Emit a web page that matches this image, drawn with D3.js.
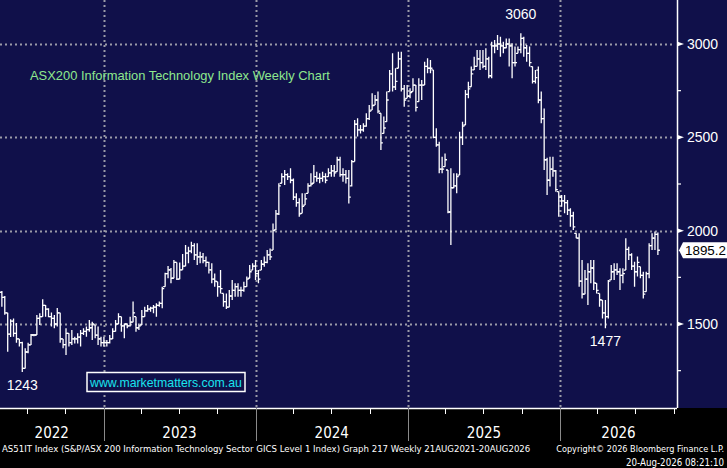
<!DOCTYPE html>
<html>
<head>
<meta charset="utf-8">
<script src="https://cdn.jsdelivr.net/npm/d3@7"></script>
<style>
  body { margin: 0; background: #000; }
  svg { display: block; }
  text { font-family: "Liberation Sans", Arial, sans-serif; }
  .narrow { font-family: "Liberation Sans Narrow", "DejaVu Sans Condensed", "Liberation Sans", sans-serif; }
</style>
</head>
<body>
<div id="chart"></div>
<script>
(function () {

// Weekly OHLC values (first week ~ May 2022)
const opens = [
  1670,1643,1560,1446,1515,1450,1420,1400,1262,1350,1388,1441,1441,1530,1540,1600,1580,1540,1530,1500,
  1560,1420,1390,1450,1400,1420,1420,1430,1450,1460,1470,1480,1495,1440,1420,1400,1400,1400,1420,1460,
  1500,1539,1490,1500,1490,1510,1539,1480,1495,1540,1570,1580,1585,1590,1600,1610,1700,1770,1790,1745,
  1830,1740,1790,1810,1880,1890,1920,1870,1860,1860,1840,1830,1790,1740,1727,1700,1664,1620,1590,1650,
  1680,1700,1680,1680,1700,1745,1789,1810,1770,1789,1820,1830,1870,1896,2004,2090,2254,2290,2300,2290,
  2270,2180,2150,2093,2137,2200,2240,2254,2290,2280,2280,2290,2289,2310,2320,2316,2380,2300,2300,2280,
  2240,2370,2570,2540,2540,2560,2600,2646,2673,2700,2629,2521,2584,2745,2840,2770,2870,2920,2760,2709,
  2720,2745,2780,2691,2780,2780,2880,2870,2861,2500,2460,2330,2343,2325,2100,2230,2240,2298,2500,2566,
  2730,2771,2861,2880,2920,2900,2880,2920,2830,2990,2990,3000,2990,2980,3000,2990,2900,2950,2970,3030,
  2980,2950,2879,2800,2860,2700,2600,2380,2270,2330,2320,2209,2180,2160,2150,2110,2080,1986,1960,1730,
  1660,1740,1780,1800,1718,1664,1628,1560,1540,1736,1780,1790,1780,1760,1789,1900,1870,1810,1780,1807,
  1760,1673,1770,1920,1960,1980
];
const highs = [
  1677,1650,1560,1525,1530,1505,1420,1405,1370,1400,1446,1446,1548,1557,1632,1602,1584,1562,1548,1586,
  1560,1420,1477,1450,1468,1432,1450,1468,1477,1486,1521,1512,1495,1486,1432,1432,1414,1441,1477,1521,
  1557,1539,1503,1503,1539,1620,1539,1503,1575,1593,1602,1593,1602,1611,1620,1700,1775,1811,1800,1843,
  1830,1830,1875,1923,1914,1941,1932,1932,1887,1880,1861,1834,1825,1771,1727,1789,1664,1664,1682,1736,
  1718,1718,1700,1727,1754,1816,1825,1843,1789,1843,1861,1896,1905,2039,2111,2254,2307,2325,2307,2334,
  2280,2200,2173,2200,2200,2254,2307,2352,2316,2307,2316,2307,2334,2352,2352,2396,2396,2334,2325,2325,
  2378,2593,2602,2566,2575,2629,2673,2736,2727,2745,2629,2611,2745,2861,2950,2870,2959,2959,2780,2780,
  2763,2816,2780,2816,2807,2905,2923,2914,2861,2548,2477,2396,2414,2325,2334,2307,2307,2530,2584,2754,
  2798,2879,2932,2968,2968,2968,2977,2932,3012,3021,3048,3039,3012,3030,3030,3004,2986,2986,3057,3039,
  2995,2986,2879,2861,2879,2745,2655,2390,2396,2396,2325,2209,2191,2191,2164,2120,2102,1986,1986,1843,
  1789,1825,1843,1843,1718,1664,1628,1628,1736,1816,1825,1825,1798,1798,1959,1914,1879,1834,1861,1807,
  1780,1780,1932,1986,1995,1990
];
const lows = [
  1593,1550,1352,1430,1432,1400,1380,1243,1262,1343,1388,1435,1441,1495,1539,1539,1536,1486,1477,1486,
  1400,1370,1334,1379,1388,1396,1396,1379,1441,1432,1459,1414,1424,1388,1379,1379,1379,1396,1420,1460,
  1500,1459,1423,1477,1486,1510,1459,1468,1495,1539,1566,1566,1557,1539,1593,1584,1700,1745,1718,1745,
  1736,1740,1790,1810,1825,1879,1843,1816,1825,1825,1807,1771,1718,1700,1646,1664,1593,1580,1590,1628,
  1646,1646,1646,1673,1700,1745,1789,1736,1718,1789,1807,1825,1843,1896,2004,2084,2254,2245,2271,2254,
  2164,2128,2075,2093,2137,2200,2236,2254,2262,2254,2262,2254,2289,2289,2289,2316,2289,2262,2253,2146,
  2236,2370,2504,2521,2530,2557,2593,2646,2673,2629,2432,2521,2584,2745,2745,2754,2870,2745,2664,2709,
  2709,2745,2638,2691,2700,2780,2843,2843,2495,2450,2307,2307,2343,2093,1923,2227,2200,2298,2459,2566,
  2709,2771,2861,2879,2861,2870,2861,2816,2816,2950,2968,2932,2950,2977,2879,2816,2879,2950,2950,2932,
  2905,2879,2789,2789,2682,2575,2325,2191,2236,2289,2209,2075,2128,2093,2084,2021,2004,1959,1700,1637,
  1660,1602,1718,1682,1664,1593,1530,1477,1530,1736,1736,1763,1682,1718,1789,1843,1789,1700,1754,1745,
  1637,1673,1745,1896,1896,1870
];
const closes = [
  1643,1560,1446,1515,1450,1420,1400,1262,1350,1388,1441,1441,1530,1540,1600,1580,1540,1530,1500,1560,
  1420,1390,1450,1400,1420,1420,1430,1450,1460,1470,1480,1500,1440,1420,1400,1400,1400,1420,1460,1500,
  1540,1490,1500,1490,1510,1560,1480,1490,1540,1570,1580,1585,1590,1600,1610,1690,1770,1790,1745,1830,
  1740,1790,1810,1880,1890,1920,1870,1860,1860,1840,1830,1790,1740,1730,1700,1690,1620,1590,1650,1680,
  1700,1680,1680,1700,1740,1780,1810,1770,1740,1820,1830,1870,1860,2000,2090,2240,2290,2300,2290,2270,
  2180,2150,2090,2130,2170,2240,2250,2290,2280,2280,2290,2270,2310,2320,2310,2380,2300,2300,2280,2180,
  2370,2570,2540,2540,2560,2600,2640,2670,2700,2640,2470,2550,2700,2840,2770,2800,2920,2760,2700,2720,
  2740,2780,2660,2780,2780,2880,2870,2870,2500,2460,2330,2330,2380,2100,2230,2240,2290,2500,2560,2730,
  2760,2840,2880,2920,2900,2880,2920,2830,2990,2990,3000,2990,2980,3000,2990,2900,2900,2970,3030,2980,
  2950,2900,2800,2820,2700,2600,2380,2270,2330,2320,2220,2180,2160,2150,2110,2080,2020,1960,1730,1660,
  1740,1780,1800,1720,1680,1630,1560,1540,1730,1780,1790,1780,1760,1770,1900,1870,1810,1780,1830,1760,
  1660,1770,1920,1960,1980,1895.2
];

const firstWeek = new Date(2022, 4, 2);
const yearLabels = ["2022", "2023", "2024", "2025", "2026"];
const majorTicks = [1500, 2000, 2500, 3000];
const minorTicks = [1250, 1750, 2250, 2750];
const lastValue = 1895.2;
const callouts = [
  { text: "3060", week: 178, value: 3057, dy: -14 },
  { text: "1477", week: 207, value: 1477, dy: 18 },
  { text: "1243", week: 7, value: 1243, dy: 18 }
];

const W = 727, H = 468;
const plotRight = 677, plotBottom = 408;

const svg = d3.select("#chart").append("svg")
    .attr("width", W)
    .attr("height", H);

// shrink a text's font until it fits the given width
function fitText(sel, width) {
    const node = sel.node();
    const size = parseFloat(sel.style("font-size"));
    const w = node.getComputedTextLength();
    if (w > width) sel.style("font-size", (size * width / w).toFixed(2) + "px");
    return sel;
}

// backgrounds
svg.append("rect").attr("width", W).attr("height", H).attr("fill", "#000");
svg.append("rect").attr("width", W).attr("height", plotBottom).attr("fill", "#10104a");

// scales
const x = d3.scaleTime()
    .domain([new Date(2023, 0, 1), new Date(2026, 0, 1)])
    .range([103.5, 560]);
const y = d3.scaleLinear()
    .domain([1500, 3000])
    .range([324, 44]);

const xEnd = x.invert(plotRight);
const dates = closes.map((d, i) => d3.timeDay.offset(firstWeek, 7 * i));
const data = dates.map((d, i) => ({ date: d, o: opens[i], h: highs[i], l: lows[i], c: closes[i] }));

// dotted grid
svg.append("g")
    .selectAll("line")
    .data(majorTicks)
    .join("line")
    .attr("x1", 0).attr("x2", plotRight - 4)
    .attr("y1", d => Math.round(y(d)) + 0.5).attr("y2", d => Math.round(y(d)) + 0.5)
    .attr("stroke", "#9a9aa8")
    .attr("stroke-width", 2)
    .attr("stroke-dasharray", "2,3");

const yearStarts = d3.timeYear.range(new Date(2023, 0, 1), xEnd);
svg.append("g")
    .selectAll("line")
    .data(yearStarts)
    .join("line")
    .attr("x1", d => Math.round(x(d)) + 0.5).attr("x2", d => Math.round(x(d)) + 0.5)
    .attr("y1", 0).attr("y2", plotBottom)
    .attr("stroke", "#9a9aa8")
    .attr("stroke-width", 2)
    .attr("stroke-dasharray", "2,3");

// title
fitText(svg.append("text")
    .attr("x", 30).attr("y", 80)
    .attr("fill", "#8ee88e")
    .style("font-size", "14px")
    .text("ASX200 Information Technology Index Weekly Chart"), 300);

// watermark box
const wm = svg.append("g");
wm.append("rect")
    .attr("x", 87).attr("y", 372.5)
    .attr("width", 158).attr("height", 19)
    .attr("fill", "#10104a")
    .attr("stroke", "#fff")
    .attr("stroke-width", 1.5);
fitText(wm.append("text")
    .attr("x", 90).attr("y", 387)
    .attr("fill", "#19e3ee")
    .style("font-size", "14px")
    .text("www.marketmatters.com.au"), 152);

// OHLC bars
const bars = svg.append("g")
    .attr("stroke", "#fff")
    .attr("stroke-width", 1.3)
    .attr("fill", "none");

bars.selectAll("path")
    .data(data)
    .join("path")
    .attr("d", d => {
        const cx = x(d.date);
        return `M${cx},${y(d.h)}V${y(d.l)}M${cx - 2},${y(d.o)}H${cx}M${cx},${y(d.c)}H${cx + 2}`;
    });

// callout numbers
svg.append("g")
    .selectAll("text")
    .data(callouts)
    .join("text")
    .attr("x", d => x(dates[d.week]))
    .attr("y", d => y(d.value) + d.dy)
    .attr("text-anchor", "middle")
    .attr("fill", "#fff")
    .style("font-size", "14px")
    .text(d => d.text);

// right axis
const ra = svg.append("g");
ra.append("line")
    .attr("x1", plotRight + 0.5).attr("x2", plotRight + 0.5)
    .attr("y1", 0).attr("y2", plotBottom)
    .attr("stroke", "#fff").attr("stroke-width", 1.5);

ra.selectAll(".minor")
    .data(minorTicks)
    .join("line")
    .attr("class", "minor")
    .attr("x1", plotRight).attr("x2", plotRight + 4)
    .attr("y1", d => y(d)).attr("y2", d => y(d))
    .attr("stroke", "#fff").attr("stroke-width", 1.2);

ra.selectAll(".arrow")
    .data(majorTicks)
    .join("path")
    .attr("class", "arrow")
    .attr("d", d => `M${plotRight},${y(d) - 2.5}L${plotRight + 7},${y(d)}L${plotRight},${y(d) + 2.5}Z`)
    .attr("fill", "#fff");

ra.selectAll(".lbl")
    .data(majorTicks)
    .join("text")
    .attr("class", "lbl")
    .attr("x", plotRight + 10)
    .attr("y", d => y(d) + 5)
    .attr("fill", "#fff")
    .style("font-size", "14px")
    .text(d => d);

// last value tag
const tagY = y(lastValue);
ra.append("path")
    .attr("d", `M${plotRight + 2},${tagY}L${plotRight + 6},${tagY - 8}H${W}V${tagY + 8}H${plotRight + 6}Z`)
    .attr("fill", "#fff");
fitText(ra.append("text")
    .attr("x", plotRight + 8)
    .attr("y", tagY + 5)
    .attr("fill", "#000")
    .style("font-size", "14px")
    .text(d3.format(".1f")(lastValue)), W - plotRight - 9);

// bottom axis
const ba = svg.append("g");
ba.append("line")
    .attr("x1", 0).attr("x2", plotRight)
    .attr("y1", plotBottom + 0.5).attr("y2", plotBottom + 0.5)
    .attr("stroke", "#fff").attr("stroke-width", 1.5);

const quarters = d3.timeMonth.every(3).range(x.invert(0), xEnd)
    .filter(d => d.getMonth() !== 0);
ba.selectAll(".q")
    .data(quarters)
    .join("line")
    .attr("class", "q")
    .attr("x1", d => Math.round(x(d)) + 0.5).attr("x2", d => Math.round(x(d)) + 0.5)
    .attr("y1", plotBottom).attr("y2", plotBottom + 6)
    .attr("stroke", "#fff").attr("stroke-width", 1);

ba.selectAll(".yr")
    .data(yearStarts)
    .join("line")
    .attr("class", "yr")
    .attr("x1", d => Math.round(x(d)) + 0.5).attr("x2", d => Math.round(x(d)) + 0.5)
    .attr("y1", plotBottom).attr("y2", 441)
    .attr("stroke", "#8a8a8a").attr("stroke-width", 1);

const bounds = [0, ...yearStarts.map(d => x(d)), plotRight];
ba.selectAll(".ylabel")
    .data(yearLabels)
    .join("text")
    .attr("class", "ylabel narrow")
    .attr("x", (d, i) => (bounds[i] + bounds[i + 1]) / 2)
    .attr("y", 438)
    .attr("text-anchor", "middle")
    .attr("fill", "#fff")
    .style("font-size", "15px")
    .text(d => d);

// footer
fitText(svg.append("text")
    .attr("class", "narrow")
    .attr("x", 2).attr("y", 452)
    .attr("fill", "#fff")
    .style("font-size", "11px")
    .text("AS51IT Index (S&P/ASX 200 Information Technology Sector GICS Level 1 Index) Graph 217 Weekly 21AUG2021-20AUG2026"), 529);

fitText(svg.append("text")
    .attr("class", "narrow")
    .attr("x", 724).attr("y", 452)
    .attr("text-anchor", "end")
    .attr("fill", "#fff")
    .style("font-size", "11px")
    .text("Copyright\u00A9 2026 Bloomberg Finance L.P."), 168);

fitText(svg.append("text")
    .attr("class", "narrow")
    .attr("x", 724).attr("y", 466)
    .attr("text-anchor", "end")
    .attr("fill", "#fff")
    .style("font-size", "11px")
    .text("20-Aug-2026 08:21:10"), 98);

})();
</script>
</body>
</html>
